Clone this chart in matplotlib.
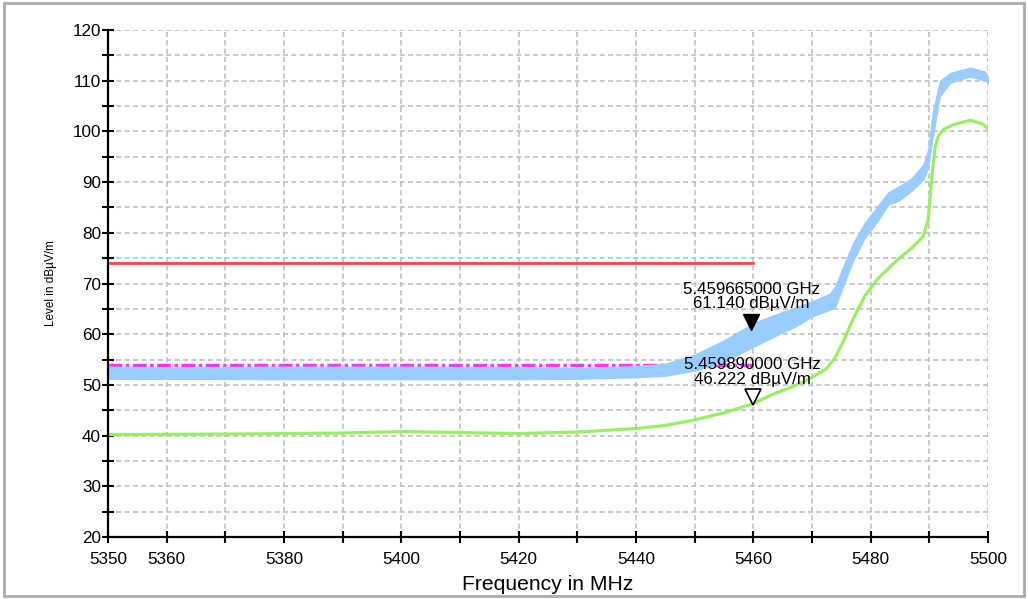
import matplotlib
matplotlib.use("Agg")
import matplotlib.pyplot as plt
from matplotlib.patches import Rectangle
from matplotlib import transforms

plt.rcParams['font.family'] = ['Liberation Sans', 'DejaVu Sans']

# ---- data ----
blue_f  = [5350, 5360, 5380, 5400, 5420, 5430, 5440, 5445, 5450, 5455, 5460, 5464, 5467, 5470,
           5473, 5474, 5475, 5477, 5479, 5481, 5483, 5485, 5487, 5489, 5489.8, 5490.6, 5491.8,
           5493.5, 5495, 5497, 5499.5, 5500]
blue_lo = [51.2, 51.2, 51.1, 51.1, 51.1, 51.2, 51.5, 51.8, 52.8, 54.5, 57.5, 59.8, 61.4, 63.5,
           64.8, 65.5, 68.5, 74.5, 79.0, 82.0, 85.5, 86.5, 88.3, 90.5, 93.0, 99.0, 107.0,
           109.5, 110.2, 110.8, 110.0, 109.5]
blue_hi = [53.6, 53.5, 53.6, 53.6, 53.5, 53.4, 53.7, 54.2, 56.0, 58.8, 62.2, 64.0, 65.2, 66.5,
           68.0, 69.5, 72.5, 78.0, 82.0, 85.0, 88.0, 89.3, 90.8, 93.5, 96.5, 104.0, 110.0,
           111.5, 112.0, 112.6, 111.8, 110.8]

green_f = [5350, 5370, 5390, 5400, 5410, 5420, 5430, 5440, 5445, 5450, 5455, 5460, 5463, 5467,
           5470, 5472.5, 5474, 5475.5, 5477, 5479, 5481, 5484.5, 5487, 5488.9, 5489.8, 5490.2,
           5490.5, 5491, 5491.5, 5492.3, 5494, 5497, 5499, 5500]
green_v = [40.2, 40.3, 40.5, 40.8, 40.6, 40.4, 40.7, 41.4, 42.0, 43.1, 44.5, 46.3, 48.0, 49.8,
           51.5, 53.2, 55.5, 59.0, 63.0, 67.5, 70.7, 74.6, 77.0, 79.2, 82.5, 88.0,
           92.0, 97.0, 99.0, 100.3, 101.3, 102.2, 101.5, 100.5]

limit_f = [5350, 5460]
limit_peak = [74, 74]
limit_avg = [54, 54]

marker1_f, marker1_v = 5459.665, 61.140
marker2_f, marker2_v = 5459.890, 46.222
marker1_text = "5.459665000 GHz\n61.140 dBµV/m"
marker2_text = "5.459890000 GHz\n46.222 dBµV/m"

x_ticks = list(range(5350, 5501, 10))
x_labels = ["5350", "5360", "", "5380", "", "5400", "", "5420", "", "5440", "", "5460", "", "5480", "", "5500"]
y_ticks = list(range(20, 121, 5))
y_labels = [str(v) if v % 10 == 0 else "" for v in y_ticks]

# ---- figure ----
fig = plt.figure(figsize=(10.28, 5.99), dpi=100)
ax = fig.add_axes([0.1051, 0.1035, 0.8560, 0.8464])

fig.patches.append(Rectangle((0.004, 0.005), 0.992, 0.99, transform=fig.transFigure,
                             fill=False, edgecolor='#aaaaaa', linewidth=2))

ax.fill_between(blue_f, blue_lo, blue_hi, color='#99ccff', linewidth=0.8, edgecolor='#99ccff', zorder=3)
ax.plot(green_f, green_v, color='#99ee66', linewidth=2.3, zorder=4)
ax.plot(limit_f, limit_peak, color='#ff4444', linewidth=2, zorder=5)
ax.plot(limit_f, limit_avg, color='#ff33ff', linewidth=2.5, dashes=[4, 1, 1, 1], zorder=2)

off = transforms.offset_copy(ax.transData, fig=fig, x=0, y=4.8, units='points')
ax.plot([marker1_f], [marker1_v], marker='v', markersize=12, color='black', transform=off, zorder=6,
        linestyle='none')
ax.plot([marker2_f], [marker2_v], marker='v', markersize=12, markerfacecolor='white',
        markeredgecolor='black', markeredgewidth=1.2, transform=off, zorder=6, linestyle='none')
for f, v, t in [(marker1_f, marker1_v, marker1_text), (marker2_f, marker2_v, marker2_text)]:
    ax.annotate(t, xy=(f, v), xytext=(0, 12.5), textcoords='offset points', ha='center', va='bottom',
                fontsize=12.2, linespacing=0.95, zorder=7)

ax.set_xlim(5350, 5500)
ax.set_ylim(20, 120)
ax.set_xticks(x_ticks)
ax.set_xticklabels(x_labels)
ax.set_yticks(y_ticks)
ax.set_yticklabels(y_labels)
ax.tick_params(axis='both', direction='inout', length=9, width=1.5, labelsize=12.3, color='black')
ax.tick_params(axis='x', pad=6)
ax.tick_params(axis='y', pad=0.5)

ax.grid(True, color='#c0c0c0', linestyle=(0, (3, 2)), linewidth=1.2, zorder=0)
ax.set_axisbelow(True)
for s in ['top', 'right']:
    ax.spines[s].set_visible(False)
for s in ['left', 'bottom']:
    ax.spines[s].set_linewidth(1.6)
    ax.spines[s].set_zorder(8)

ax.set_xlabel("Frequency in MHz", fontsize=15.2, labelpad=6)
ax.set_ylabel("Level in dBµV/m", fontsize=8.5, labelpad=11)

fig.savefig("out.png", dpi=100)
